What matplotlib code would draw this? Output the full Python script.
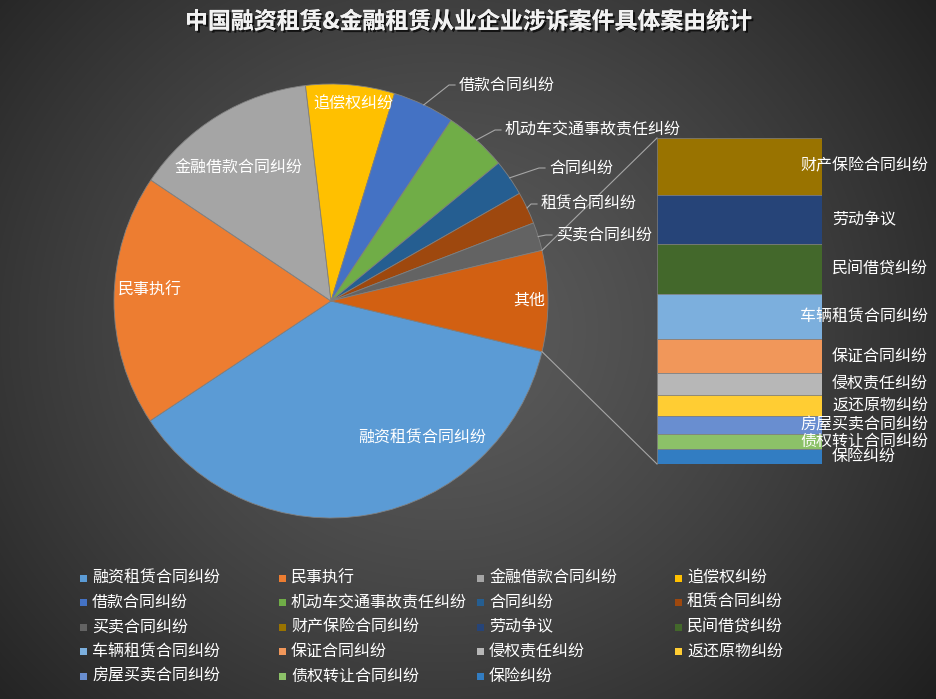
import matplotlib
matplotlib.use('Agg')
import matplotlib.pyplot as plt
import matplotlib.patheffects as pe
from matplotlib.patches import Rectangle
import numpy as np

plt.rcParams['font.family'] = ['Noto Sans CJK SC', 'DejaVu Sans']

# ---------------- data ----------------
title = '中国融资租赁&金融租赁从业企业涉诉案件具体案由统计'
main_labels = ['融资租赁合同纠纷', '民事执行', '金融借款合同纠纷', '追偿权纠纷', '借款合同纠纷',
               '机动车交通事故责任纠纷', '合同纠纷', '租赁合同纠纷', '买卖合同纠纷']
main_values = [36.9, 18.7, 13.7, 6.6, 4.6, 4.7, 2.7, 2.4, 2.1]
other_labels = ['财产保险合同纠纷', '劳动争议', '民间借贷纠纷', '车辆租赁合同纠纷', '保证合同纠纷',
                '侵权责任纠纷', '返还原物纠纷', '房屋买卖合同纠纷', '债权转让合同纠纷', '保险纠纷']
other_values = [1.30, 1.14, 1.14, 1.04, 0.77, 0.52, 0.48, 0.41, 0.35, 0.34]
other_name = '其他'

main_colors = ['#5B9BD5', '#ED7D31', '#A5A5A5', '#FFC000', '#4472C4', '#70AD47',
               '#255E91', '#9E480E', '#636363']
other_colors = ['#997300', '#264478', '#43682B', '#7CAFDD', '#F1975A', '#B7B7B7',
                '#FFCD33', '#698ED0', '#8CC168', '#327DC2']
other_color = '#D26012'

# ---------------- layout ----------------
W, H = 936, 699
def Y(y):
    return H - y

fig = plt.figure(figsize=(W / 100, H / 100), dpi=100)

# background radial gradient
axbg = fig.add_axes([0, 0, 1, 1], zorder=0)
yy, xx = np.mgrid[0:H, 0:W]
d = np.sqrt(((xx - 440) / 560.0) ** 2 + ((yy - 330) / 520.0) ** 2)
d = np.clip(d, 0, 1.2)
v = (92 - 52 * d ** 1.3) / 255.0
v = np.clip(v, 0.12, 1)
img = np.dstack([v, v, v])
axbg.imshow(img, extent=(0, W, 0, H), origin='upper', aspect='auto')
axbg.axis('off')

ax = fig.add_axes([0, 0, 1, 1], zorder=2)
ax.patch.set_alpha(0)

cx, cy, R = 331, Y(301), 217
other_sum = sum(other_values)
total = sum(main_values) + other_sum
other_deg = 360.0 * other_sum / total

wedges, _ = ax.pie(main_values + [other_sum], colors=main_colors + [other_color],
                   center=(cx, cy), radius=R, startangle=-other_deg / 2,
                   counterclock=False, frame=True,
                   wedgeprops=dict(edgecolor='#808080', linewidth=0.6))
ax.set_xlim(0, W)
ax.set_ylim(0, H)
ax.set_aspect('auto')
ax.axis('off')

FS = 11.5
# inside labels (pixel positions in the reference, y from top)
inside_pos = {0: (422, 438), 1: (150, 290), 2: (238, 168), 3: (353, 104)}
for i, (px, py) in inside_pos.items():
    ax.text(px, Y(py), main_labels[i], ha='center', va='center', color='white', fontsize=FS)
ax.text(529, Y(300), other_name, ha='center', va='center', color='white', fontsize=FS)

# outside labels with leader lines
outside_pos = {4: (459, 85), 5: (505, 130), 6: (549, 168), 7: (541, 204), 8: (556, 235)}
for i, (tx, ty) in outside_pos.items():
    w = wedges[i]
    mid = np.deg2rad((w.theta1 + w.theta2) / 2)
    ex, ey = cx + R * np.cos(mid), cy + R * np.sin(mid)
    ax.plot([ex, tx - 10, tx - 4], [ey, Y(ty), Y(ty)], color='#a6a6a6', lw=0.8)
    ax.text(tx, Y(ty), main_labels[i], ha='left', va='center', color='white', fontsize=FS)

# connector lines from the "other" slice to the bar
bx0, bx1, by_top, by_bot = 657, 822, 138, 464
a1 = np.deg2rad(other_deg / 2)
ax.plot([cx + R * np.cos(a1), bx0], [cy + R * np.sin(a1), Y(by_top)], color='#a6a6a6', lw=0.8)
ax.plot([cx + R * np.cos(-a1), bx0], [cy + R * np.sin(-a1), Y(by_bot)], color='#a6a6a6', lw=0.8)

# bar of "other" (below the main overlay axes so labels sit on top)
axb = fig.add_axes([bx0 / W, (H - by_bot) / H, (bx1 - bx0) / W, (by_bot - by_top) / H], zorder=1)
axb.set_xlim(0, 1)
axb.set_ylim(other_sum, 0)
bottoms = np.concatenate([[0], np.cumsum(other_values)[:-1]])
axb.bar(0.5, other_values, width=1, bottom=bottoms, color=other_colors,
        edgecolor='#808080', linewidth=0.5)
axb.axis('off')

# bar labels: left-aligned at x=832 px, pushed left if they would pass x=928 px
renderer = fig.canvas.get_renderer()
lab_left, lab_right = 832, 928
for lab, b, val in zip(other_labels, bottoms, other_values):
    ypix = axb.transData.transform((0.5, b + val / 2))[1]
    t = ax.text(lab_left, ypix, lab, ha='left', va='center', color='white', fontsize=FS)
    ext = t.get_window_extent(renderer)
    if ext.x1 > lab_right:
        t.set_x(lab_right)
        t.set_ha('right')

# title
ax.text(468, Y(22), title, ha='center', va='center', color='#f2f2f2', fontsize=16.5,
        fontweight='bold',
        path_effects=[pe.withSimplePatchShadow(offset=(1.5, -1.5), shadow_rgbFace='black', alpha=0.7),
                      pe.Normal()])

# legend (4 columns)
leg_labels = main_labels + other_labels
leg_colors = main_colors + other_colors
col_x = [80, 279, 477, 675]
row_y0, row_dy = 578, 24.5
for i, (lab, c) in enumerate(zip(leg_labels, leg_colors)):
    r, k = divmod(i, 4)
    x0 = col_x[k]
    y0 = row_y0 + r * row_dy
    ax.add_patch(Rectangle((x0, Y(y0) - 3.5), 7, 7, facecolor=c, edgecolor='none'))
    ax.text(x0 + 12, Y(y0), lab, ha='left', va='center', color='white', fontsize=FS)

fig.savefig('out.png', dpi=100)
